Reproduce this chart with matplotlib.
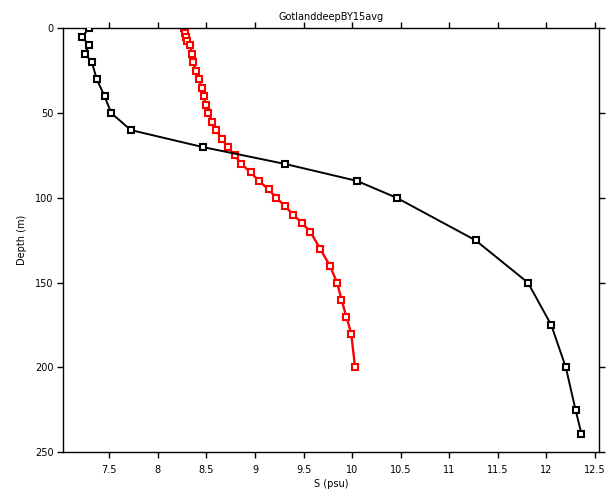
import matplotlib
matplotlib.use("Agg")
import matplotlib.pyplot as plt

# Black profile
black_depth = [0, 5, 10, 15, 20, 30, 40, 50, 60, 70, 80, 90, 100, 125, 150, 175, 200, 225, 239]
black_sal = [7.29, 7.22, 7.29, 7.25, 7.32, 7.37, 7.45, 7.52, 7.72, 8.46, 9.31, 10.05, 10.46,
             11.27, 11.81, 12.05, 12.20, 12.30, 12.36]

# Red profile
red_depth = [0, 2.5, 5, 7.5, 10, 15, 20, 25, 30, 35, 40, 45, 50, 55, 60, 65, 70, 75, 80, 85,
             90, 95, 100, 105, 110, 115, 120, 130, 140, 150, 160, 170, 180, 200]
red_sal = [8.27, 8.28, 8.29, 8.30, 8.33, 8.35, 8.36, 8.39, 8.42, 8.45, 8.47, 8.49, 8.52, 8.56,
           8.60, 8.655, 8.72, 8.79, 8.86, 8.955, 9.04, 9.14, 9.22, 9.31, 9.395, 9.485, 9.57,
           9.67, 9.77, 9.845, 9.89, 9.94, 9.99, 10.03]

title = "GotlanddeepBY15avg"
xlabel = "S (psu)"
ylabel = "Depth (m)"
xticks = [7.5, 8, 8.5, 9, 9.5, 10, 10.5, 11, 11.5, 12, 12.5]
xticklabels = ["7.5", "8", "8.5", "9", "9.5", "10", "10.5", "11", "11.5", "12", "12.5"]
yticks = [0, 50, 100, 150, 200, 250]

plt.rcParams['font.family'] = ['DejaVu Sans']
fig = plt.figure(figsize=(6.06, 4.93), dpi=100)
ax = fig.add_axes([0.1045, 0.0826, 0.8839, 0.86])

ax.plot(black_sal, black_depth, color='black', lw=1.4, marker='s', ms=4.5,
        mfc='white', mec='black', mew=1.5, zorder=3)
ax.plot(red_sal, red_depth, color='#ff0000', lw=1.7, marker='s', ms=4.5,
        mfc='white', mec='#ff0000', mew=1.5, zorder=2)

ax.set_xlim(7.026, 12.541)
ax.set_ylim(250, 0)
ax.set_xticks(xticks)
ax.set_xticklabels(xticklabels)
ax.set_yticks(yticks)

ax.tick_params(axis='both', direction='out', length=4, width=1, labelsize=7,
               top=True, right=True, labeltop=False, labelright=False, pad=3)
ax.tick_params(axis='x', pad=5)
for s in ax.spines.values():
    s.set_linewidth(1)
    s.set_color('black')

ax.set_title(title, fontsize=7, pad=6)
ax.set_xlabel(xlabel, fontsize=7, labelpad=3)
ax.set_ylabel(ylabel, fontsize=7, labelpad=6)

fig.savefig("out.png", dpi=100)
